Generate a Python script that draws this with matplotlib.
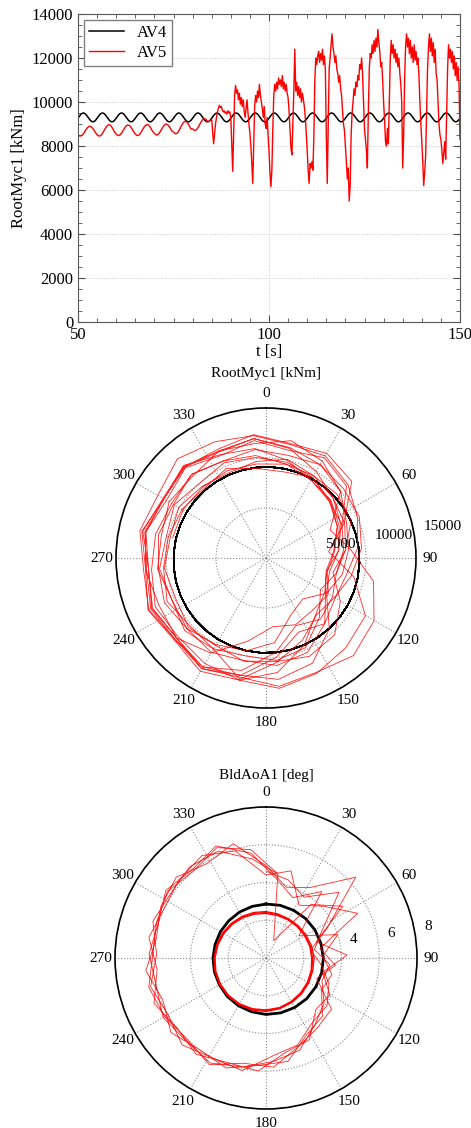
import numpy as np
import matplotlib
matplotlib.use("Agg")
import matplotlib.pyplot as plt
from matplotlib.ticker import MultipleLocator

plt.rcParams['font.family'] = ['Liberation Serif', 'DejaVu Serif']

# rotor: one revolution every 5 s, blade at 95 deg at t = 90.4 s
ROTOR_PERIOD = 5.0
AZ_REF_T = 90.4
AZ_REF_DEG = 95.0

# ---- RootMyc1 time series [kNm] ----
t_steady = np.arange(50.0, 86.0, 0.5)
av5_steady = [8510, 8450, 8480, 8580, 8720, 8840, 8900, 8870, 8770, 8630,
              8510, 8450, 8475, 8600, 8760, 8890, 8970, 8945, 8820, 8660,
              8535, 8475, 8500, 8610, 8760, 8895, 8955, 8930, 8820, 8670,
              8540, 8475, 8500, 8620, 8775, 8910, 8975, 8950, 8830, 8675,
              8570, 8500, 8530, 8645, 8800, 8930, 9000, 8970, 8855, 8700,
              8630, 8555, 8585, 8720, 8895, 9050, 9125, 9095, 8960, 8785,
              8775, 8705, 8735, 8860, 9030, 9175, 9245, 9215, 9100, 9150, 9200, 8100]

t_turb = np.arange(86.0, 150.001, 0.25)
av5_turb = [9000, 9300, 9550, 9700,  9850, 9750, 9800, 9650,  9550, 9600, 9500, 9550,
            9450, 9600, 9500, 9550,  9300, 8000, 6850, 8600,  10300, 10750, 10400, 10550,
            10100, 10400, 9900, 10200,  9800, 10100, 9600, 9300,  9700, 10100, 9500, 9000,
            8600, 8000, 7200, 6300,  8000, 9800, 10300, 10000,  10500, 10200, 10800, 10300,
            10000, 9700, 9300, 9800,  9000, 8800, 9300, 8500,  7800, 6800, 6150, 6900,
            8800, 10300, 10800, 10500,  10900, 10600, 11100, 10800,  11000, 10700, 11200, 10600,
            10900, 10500, 10800, 10400,  10200, 9600, 8700, 7900,  7600, 9000, 10500, 12400,
            10500, 10900, 10300, 10700,  10200, 10600, 10000, 10400,  10100, 9800, 9300, 8600,
            7800, 6900, 6300, 7200,  7000, 7300, 6900, 8500,  11000, 12000, 11700, 12100,
            12300, 11800, 12200, 11900,  12400, 11700, 12100, 11500,  8500, 6300, 9000, 11500,
            12000, 12600, 13100, 12500,  12200, 11800, 12100, 11500,  11300, 10900, 11200, 10600,
            10300, 9600, 9000, 8700,  8000, 7300, 6500, 7000,  5500, 6200, 8500, 9500,
            10000, 10600, 10300, 10900,  10700, 11200, 11000, 11700,  11500, 12000, 11200, 10000,
            8800, 8300, 7800, 7000,  9500, 11500, 12200, 12000,  12600, 12200, 12800, 12300,
            12900, 12500, 13300, 12700,  12300, 11600, 11800, 11000,  10000, 9200, 8200, 8000,
            8800, 8100, 10000, 12000,  12800, 12200, 12600, 12000,  12400, 11800, 12200, 11600,
            12000, 11300, 10800, 10000,  7000, 8500, 11000, 12500,  13100, 12500, 12900, 12200,
            12800, 12000, 12500, 11800,  12600, 11900, 12300, 11700,  12000, 11200, 10000, 9000,
            8200, 7300, 6200, 6800,  7500, 9500, 11500, 12500,  13100, 12300, 12900, 12100,
            12700, 11800, 12400, 11300,  11000, 10000, 9000, 8500,  8300, 7800, 7200, 7700,
            8200, 7400, 9500, 11500,  12600, 12000, 12400, 11800,  12300, 11500, 12100, 11200,
            11800, 11000, 11600, 10800,  8300]

# AV4 is periodic: one revolution read at 0.125 s steps starting at t = 50 s
t_av4 = np.arange(50.0, 150.001, 0.125)
av4_rev = [9263, 9294, 9325, 9356, 9385, 9412, 9437, 9458, 9475, 9488,
           9496, 9500, 9498, 9492, 9481, 9465, 9446, 9423, 9396, 9368,
           9337, 9306, 9275, 9244, 9215, 9188, 9163, 9142, 9125, 9112,
           9104, 9100, 9102, 9108, 9119, 9135, 9154, 9177, 9204, 9232]

# ---- BldAoA1 [deg] vs azimuth ----
ring_az = np.arange(0, 361, 15)
aoa_av4_ring = [2.86, 2.89, 2.92, 2.96, 2.99, 3.01, 3.04, 3.05, 3.05, 3.05, 3.03, 3.01,
                2.99, 2.95, 2.92, 2.89, 2.85, 2.83, 2.81, 2.79, 2.79, 2.79, 2.81, 2.83]
aoa_av5_rings = [
    [2.41, 2.38, 2.37, 2.37, 2.39, 2.43, 2.47, 2.52, 2.58, 2.64, 2.70, 2.75,
     2.79, 2.82, 2.83, 2.83, 2.81, 2.78, 2.73, 2.68, 2.62, 2.56, 2.50, 2.45],
    [2.46, 2.42, 2.40, 2.42, 2.45, 2.50, 2.55, 2.57, 2.62, 2.68, 2.73, 2.79,
     2.83, 2.86, 2.86, 2.85, 2.84, 2.80, 2.76, 2.71, 2.66, 2.60, 2.55, 2.50],
    [2.36, 2.33, 2.33, 2.34, 2.36, 2.40, 2.42, 2.48, 2.54, 2.60, 2.66, 2.72,
     2.75, 2.78, 2.80, 2.80, 2.78, 2.75, 2.70, 2.64, 2.58, 2.52, 2.46, 2.40],
]
AOA_STEP_DEG = 16
aoa_av5_turb = [4.6, 4.3, 3.8, 5.2, 3.3, 2.6, 3.4, 3.2, 3.9, 4.4, 5.2, 5.5,
                5.9, 6.3, 6.1, 6.3, 6.0, 6.2, 6.0, 6.4, 6.1, 6.5, 5.6,
                4.2, 3.5, 4.6, 2.1, 4.0, 3.0, 3.6, 3.4, 4.3, 4.6, 5.6,
                5.7, 6.2, 6.0, 6.4, 5.9, 6.4, 5.9, 6.2, 6.4, 5.9, 6.3,
                4.9, 3.9, 4.4, 6.4, 3.6, 2.4, 2.9, 3.6, 4.1, 4.2, 4.9, 5.2,
                6.1, 6.0, 6.4, 6.0, 6.3, 5.8, 6.3, 6.1, 6.3, 6.2, 5.3,
                4.5, 1.0, 3.7, 4.9, 2.8, 4.3, 3.1, 3.9, 3.8, 4.9, 5.1,
                6.0, 5.9, 6.3, 6.0, 6.4, 5.8, 6.3, 6.0, 6.2, 6.4, 5.9,
                4.4, 4.8, 3.3, 4.1, 5.4, 2.9, 3.7, 2.9, 4.4, 4.6, 5.0, 5.8,
                5.7, 6.4, 6.0, 6.2, 6.4, 6.0, 6.1, 6.3, 6.0, 6.4, 5.8,
                4.5]

W, H = 471, 1128


def style_polar(ax, rmax, rings, labelled):
    ax.set_theta_zero_location('N')
    ax.set_theta_direction(-1)
    ax.set_ylim(0, rmax)
    ax.set_thetagrids(np.arange(0, 360, 30), [str(a) for a in range(0, 360, 30)], fontsize=11)
    ax.set_yticks(rings)
    ax.set_yticklabels([])
    ax.tick_params(axis='x', pad=0)
    ax.grid(True, color='0.55', linestyle=':', linewidth=0.8)
    ax.spines['polar'].set_linewidth(1.2)
    for r in labelled:
        ax.annotate(str(r), (np.deg2rad(80), r), xytext=(7, 3.6), textcoords='offset points',
                    ha='left', va='center', fontsize=11)


def main():
    fig = plt.figure(figsize=(W / 100, H / 100), dpi=100)

    # time series
    ax = fig.add_axes([78 / W, 1 - 322 / H, 382 / W, 308 / H])
    av4 = np.append(np.tile(av4_rev, 20), av4_rev[0])
    t_av5 = np.concatenate([t_steady, t_turb])
    av5 = np.concatenate([av5_steady, av5_turb])
    ax.plot(t_av4, av4, color='black', lw=1.1, label='AV4')
    ax.plot(t_av5, av5, color='red', lw=1.0, label='AV5')
    ax.set_xlim(50, 150)
    ax.set_ylim(0, 14000)
    ax.xaxis.set_major_locator(MultipleLocator(50))
    ax.xaxis.set_minor_locator(MultipleLocator(5))
    ax.yaxis.set_major_locator(MultipleLocator(2000))
    ax.yaxis.set_minor_locator(MultipleLocator(500))
    ax.tick_params(which='both', direction='in', top=True, right=True, labelsize=12, colors='0.3',
                   labelcolor='black')
    ax.tick_params(which='major', length=5)
    ax.tick_params(which='minor', length=3)
    for s in ax.spines.values():
        s.set_color('0.35')
    ax.grid(True, which='major', color='0.8', linestyle=':', linewidth=0.7)
    ax.set_xlabel('t [s]', fontsize=12, labelpad=1)
    ax.set_ylabel('RootMyc1 [kNm]', fontsize=12, labelpad=3)
    leg = ax.legend(loc='upper left', fontsize=12, fancybox=False, framealpha=1,
                    handlelength=2.1, borderaxespad=0.35, borderpad=0.3, labelspacing=0.25)
    leg.get_frame().set_edgecolor('0.5')

    keep = t_turb >= 88
    keep4 = t_av4 >= 88

    def azimuth(t):
        return np.deg2rad(AZ_REF_DEG + 360.0 * (t - AZ_REF_T) / ROTOR_PERIOD)

    # RootMyc1 polar
    p1 = fig.add_axes([116 / W, 1 - 708 / H, 300 / W, 300 / H], projection='polar')
    p1.plot(azimuth(t_av4[keep4]), av4[keep4], color='black', lw=1.0)
    p1.plot(azimuth(t_turb[keep]), np.asarray(av5_turb)[keep], color='red', lw=0.6, alpha=0.85)
    style_polar(p1, 15000, [5000, 10000, 15000], [5000, 10000, 15000])
    fig.text(266 / W, 1 - 373.5 / H, 'RootMyc1 [kNm]', ha='center', va='center', fontsize=11)

    # BldAoA1 polar
    p2 = fig.add_axes([115 / W, 1 - 1109 / H, 302 / W, 302 / H], projection='polar')
    p2.plot(np.deg2rad(ring_az), aoa_av4_ring + aoa_av4_ring[:1], color='black', lw=2.0)
    for ring in aoa_av5_rings:
        p2.plot(np.deg2rad(ring_az), ring + ring[:1], color='red', lw=0.9)
    az2 = np.deg2rad(AOA_STEP_DEG * np.arange(len(aoa_av5_turb)))
    p2.plot(az2, aoa_av5_turb, color='red', lw=0.6, alpha=0.85)
    style_polar(p2, 8, [2, 4, 6, 8], [4, 6, 8])
    fig.text(266 / W, 1 - 775 / H, 'BldAoA1 [deg]', ha='center', va='center', fontsize=11)

    fig.savefig('out.png', dpi=100)


if __name__ == "__main__":
    main()
